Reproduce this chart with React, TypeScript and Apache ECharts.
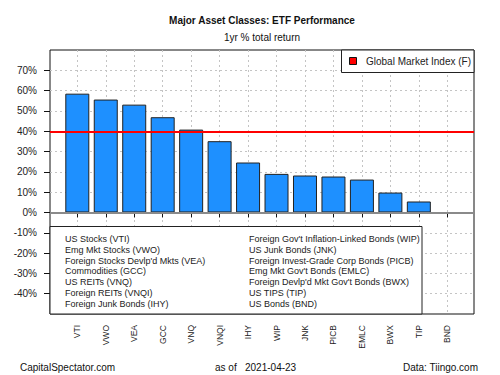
import React, { useEffect, useRef } from "react";
import * as echarts from "echarts";

const categories = ["VTI", "VWO", "VEA", "GCC", "VNQ", "VNQI", "IHY", "WIP", "JNK", "PICB", "EMLC", "BWX", "TIP", "BND"];
const returns = [58.5, 55.6, 53.1, 46.9, 40.8, 35.1, 24.6, 19.0, 18.2, 17.7, 16.2, 9.8, 5.4, -0.3];
const globalMarketIndex = 39.8;
const yTickValues = [-40, -30, -20, -10, 0, 10, 20, 30, 40, 50, 60, 70];
const legendLeft = [
  "US Stocks (VTI)",
  "Emg Mkt Stocks (VWO)",
  "Foreign Stocks Devlp'd Mkts (VEA)",
  "Commodities (GCC)",
  "US REITs (VNQ)",
  "Foreign REITs (VNQI)",
  "Foreign Junk Bonds (IHY)",
];
const legendRight = [
  "Foreign Gov't Inflation-Linked Bonds (WIP)",
  "US Junk Bonds (JNK)",
  "Foreign Invest-Grade Corp Bonds (PICB)",
  "Emg Mkt Gov't Bonds (EMLC)",
  "Foreign Devlp'd Mkt Gov't Bonds (BWX)",
  "US TIPS (TIP)",
  "US Bonds (BND)",
];

const FONT = "'Liberation Sans', Arial, sans-serif";

export default function App() {
  const ref = useRef<HTMLDivElement>(null);
  useEffect(() => {
    if (!ref.current) return;
    const chart = echarts.init(ref.current, undefined, { renderer: "svg" });
    const gridLine = { show: true, lineStyle: { color: "#c4c4c4", type: [2, 3] as any, width: 1 } };
    const legendTexts: any[] = [];
    legendLeft.forEach((t, i) => {
      legendTexts.push({
        type: "text", x: 65, y: 239 + i * 10.8, z: 21,
        style: { text: t, fontSize: 9, fontFamily: FONT, fill: "#222", textVerticalAlign: "middle" },
      });
    });
    legendRight.forEach((t, i) => {
      legendTexts.push({
        type: "text", x: 249, y: 239 + i * 10.8, z: 21,
        style: { text: t, fontSize: 9, fontFamily: FONT, fill: "#222", textVerticalAlign: "middle" },
      });
    });
    chart.setOption({
      animation: false,
      backgroundColor: "#fff",
      textStyle: { fontFamily: FONT },
      grid: [
        { left: 50, right: 26, top: 50, bottom: 61, show: true, borderColor: "#111", borderWidth: 1, backgroundColor: "transparent" },
        { left: 77.3, right: 52.7, top: 50, bottom: 61 },
      ],
      xAxis: [
        { type: "value", gridIndex: 0, min: 0, max: 1, show: false },
        {
          type: "category", gridIndex: 1, data: categories, boundaryGap: false,
          axisLine: { show: false },
          axisTick: { show: true, length: 5, lineStyle: { color: "#111" } },
          axisLabel: { rotate: 90, fontSize: 8.5, color: "#222", margin: 11, fontFamily: FONT },
          splitLine: gridLine,
        },
      ],
      yAxis: [
        {
          type: "value", gridIndex: 0, min: -50, max: 80, interval: 10,
          axisLine: { show: false },
          axisTick: { show: true, length: 6, lineStyle: { color: "#111" }, customValues: yTickValues },
          axisLabel: {
            fontSize: 10, color: "#222", margin: 13, fontFamily: FONT, customValues: yTickValues,
            formatter: (v: number) => (v <= -50 || v >= 80 ? "" : v + "%"),
          },
          splitLine: gridLine,
        },
        { type: "value", gridIndex: 1, min: -50, max: 80, interval: 10, show: false },
      ],
      series: [
        {
          type: "bar", xAxisIndex: 1, yAxisIndex: 1, data: returns, barWidth: 24, clip: false, z: 3,
          itemStyle: { color: "#1E90FF", borderColor: "#222", borderWidth: 1 },
        },
        {
          type: "line", name: "Global Market Index (F)", xAxisIndex: 0, yAxisIndex: 0, data: [], z: 5,
          markLine: {
            silent: true, symbol: ["none", "none"], label: { show: false },
            data: [
              { yAxis: 0, lineStyle: { color: "#8a8a8a", width: 2, type: "solid" } },
              { yAxis: globalMarketIndex, lineStyle: { color: "#ff0000", width: 2, type: "solid" } },
            ],
          },
        },
      ],
      graphic: [
        {
          type: "text", x: 262, y: 20, z: 20,
          style: { text: "Major Asset Classes: ETF Performance", fontSize: 10, fontWeight: "bold", fontFamily: FONT, fill: "#111", textAlign: "center", textVerticalAlign: "middle" },
        },
        {
          type: "text", x: 262, y: 37, z: 20,
          style: { text: "1yr % total return", fontSize: 10, fontFamily: FONT, fill: "#111", textAlign: "center", textVerticalAlign: "middle" },
        },
        {
          type: "rect", z: 20,
          shape: { x: 341.5, y: 50, width: 132.5, height: 22.5 },
          style: { fill: "#fff", stroke: "#222", lineWidth: 1 },
        },
        {
          type: "rect", z: 21,
          shape: { x: 349.5, y: 57.5, width: 7, height: 7 },
          style: { fill: "#ff0000", stroke: "#111", lineWidth: 1 },
        },
        {
          type: "text", x: 366, y: 61, z: 21,
          style: { text: "Global Market Index (F)", fontSize: 10, fontFamily: FONT, fill: "#222", textVerticalAlign: "middle" },
        },
        {
          type: "rect", z: 20,
          shape: { x: 50, y: 226.5, width: 372, height: 87.5 },
          style: { fill: "#fff", stroke: "#222", lineWidth: 1 },
        },
        ...legendTexts,
        {
          type: "text", x: 20, y: 367, z: 20,
          style: { text: "CapitalSpectator.com", fontSize: 10, fontFamily: FONT, fill: "#111", textVerticalAlign: "middle" },
        },
        {
          type: "text", x: 215, y: 367, z: 20,
          style: { text: "as of", fontSize: 10, fontFamily: FONT, fill: "#111", textVerticalAlign: "middle" },
        },
        {
          type: "text", x: 245, y: 367, z: 20,
          style: { text: "2021-04-23", fontSize: 10, fontFamily: FONT, fill: "#111", textVerticalAlign: "middle" },
        },
        {
          type: "text", x: 478, y: 367, z: 20,
          style: { text: "Data: Tiingo.com", fontSize: 10, fontFamily: FONT, fill: "#111", textAlign: "right", textVerticalAlign: "middle" },
        },
      ],
    });
    return () => chart.dispose();
  }, []);
  return <div ref={ref} style={{ width: 500, height: 375, position: "absolute", left: 0, top: 0 }} />;
}
